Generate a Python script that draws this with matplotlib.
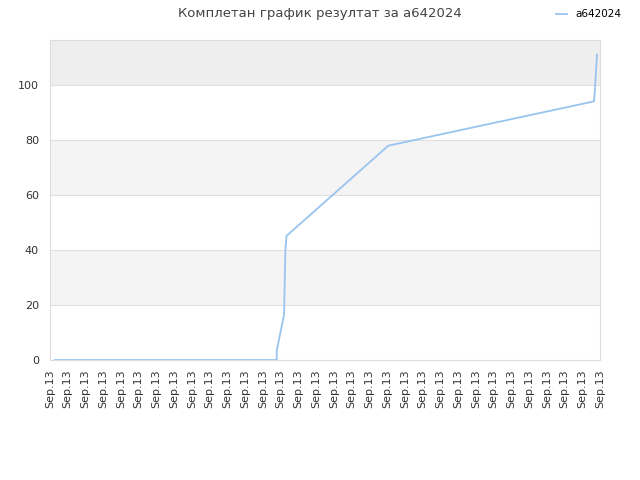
import matplotlib
matplotlib.use("Agg")
import matplotlib.pyplot as plt

# time positions in tick units (0..31), and cumulative result values
t_values = [0.28, 12.78, 12.78, 13.19, 13.27, 13.33, 19.07, 30.66, 30.70, 30.83]
y_values = [0.0, 0.0, 3.4, 16.4, 40.0, 45.1, 77.9, 94.0, 97.0, 111.0]
tick_labels = ["Sep.13"] * 32
series_name = "a642024"
title = "Комплетан график резултат за a642024"

fig = plt.figure(figsize=(6.4, 4.8), dpi=100)
ax = fig.add_axes([50/640, 120/480, 550/640, 320/480])

ymax = 116.3
bands = [(0, 20, "white"), (20, 40, "#f4f4f4"), (40, 60, "white"),
         (60, 80, "#f4f4f4"), (80, 100, "white"), (100, ymax, "#eeeeee")]
for lo, hi, c in bands:
    ax.axhspan(lo, hi, color=c, zorder=0, lw=0)
for yv in [20, 40, 60, 80, 100]:
    ax.axhline(yv, color="#e0e0e0", lw=0.8, zorder=1)

ax.plot(t_values, y_values, color="#99c4f0", lw=1.3, zorder=3, label=series_name)

ax.set_xlim(0, 31)
ax.set_ylim(0, ymax)
ax.set_xticks(range(32))
ax.set_xticklabels(tick_labels, rotation=90, fontsize=8, color="#333333")
ax.set_yticks([0, 20, 40, 60, 80, 100])
ax.set_yticklabels(["0", "20", "40", "60", "80", "100"], fontsize=8, color="#333333")
ax.tick_params(axis="x", length=0, pad=7)
ax.tick_params(axis="y", length=0, pad=8)
for s in ax.spines.values():
    s.set_color("#dddddd")
    s.set_linewidth(0.8)

fig.text(0.5, 0.971, title, ha="center", va="center", fontsize=9.5, color="#444444")
leg = fig.legend(loc="upper right", bbox_to_anchor=(0.985, 1.0), frameon=False,
                 fontsize=7.5, handlelength=1.0, handletextpad=0.8)
fig.savefig("out.png", dpi=100)
